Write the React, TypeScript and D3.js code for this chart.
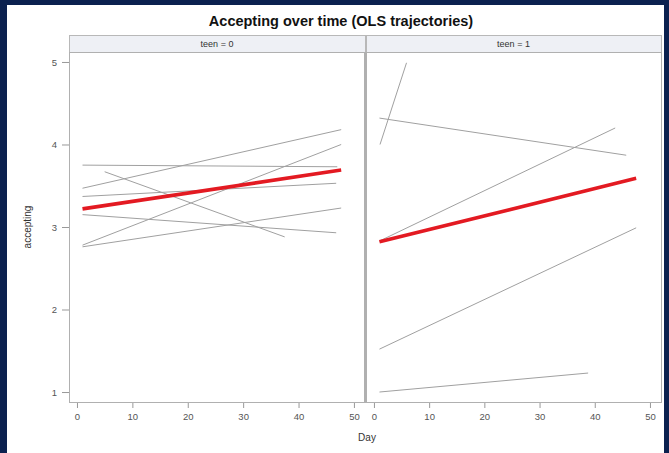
import React, { useEffect, useRef } from "react";
import * as d3 from "d3";

// facet labels + axis ticks
const panelLabels = ["teen = 0", "teen = 1"];
const yTicks = [1, 2, 3, 4, 5];
const xTicks = [0, 10, 20, 30, 40, 50];

// individual OLS trajectories: [startDay, startValue, endDay, endValue]
const teen0Lines = [
  [1, 3.75, 47, 3.73],
  [1, 3.47, 47.7, 4.18],
  [1, 3.37, 46.8, 3.53],
  [5, 3.67, 37.5, 2.88],
  [1, 3.15, 46.8, 2.93],
  [1, 2.78, 47.7, 4.0],
  [1, 2.76, 47.7, 3.23],
];
const teen1Lines = [
  [1.1, 4.0, 5.9, 4.99],
  [1, 4.32, 45.7, 3.87],
  [1, 2.83, 43.7, 4.2],
  [1, 1.52, 47.5, 2.99],
  [1, 1.0, 38.8, 1.23],
];
// average trajectory per group
const teen0Mean = [1, 3.22, 47.7, 3.69];
const teen1Mean = [1, 2.82, 47.5, 3.59];

const App = () => {
  const ref = useRef<SVGSVGElement>(null);
  const width = 669;
  const height = 453;

  useEffect(() => {
    const svg = d3.select(ref.current);
    svg.selectAll("*").remove();

    const font = "Liberation Sans, Arial, sans-serif";
    const top = 52;
    const bottom = 402;
    const headerTop = 35;

    svg.append("rect").attr("width", width).attr("height", height).attr("fill", "#0b214f");
    svg.append("rect").attr("x", 7).attr("y", 5).attr("width", 657).attr("height", 448).attr("fill", "#fff");

    svg.append("text")
      .attr("x", 341).attr("y", 26)
      .attr("text-anchor", "middle")
      .attr("font-family", font).attr("font-weight", "bold").attr("font-size", 14.5)
      .attr("fill", "#111")
      .text("Accepting over time (OLS trajectories)");

    const y = d3.scaleLinear().domain([0.879, 5.121]).range([bottom, top]);

    const panels = [
      { range: [69, 365], lines: teen0Lines, mean: teen0Mean },
      { range: [366, 661], lines: teen1Lines, mean: teen1Mean },
    ];

    panels.forEach((p, i) => {
      const x = d3.scaleLinear().domain([-1.44, 52]).range(p.range);
      const g = svg.append("g");
      const [x0, x1] = p.range;

      // strip header
      g.append("rect")
        .attr("x", x0 + 0.5).attr("y", headerTop + 0.5)
        .attr("width", x1 - x0).attr("height", top - headerTop)
        .attr("fill", "#eef0f5").attr("stroke", "#b8b8b8");
      g.append("text")
        .attr("x", (x0 + x1) / 2).attr("y", headerTop + 12)
        .attr("text-anchor", "middle")
        .attr("font-family", font).attr("font-size", 9).attr("fill", "#333")
        .text(panelLabels[i]);

      // frame
      g.append("rect")
        .attr("x", x0 + 0.5).attr("y", top + 0.5)
        .attr("width", x1 - x0).attr("height", bottom - top)
        .attr("fill", "none").attr("stroke", "#b0b0b0");

      const seg = (d: number[]) => [[x(d[0]), y(d[1])], [x(d[2]), y(d[3])]] as [number, number][];
      const line = d3.line();

      g.selectAll(".traj")
        .data(p.lines)
        .enter()
        .append("path")
        .attr("d", (d) => line(seg(d)))
        .attr("fill", "none")
        .attr("stroke", "#a0a0a0")
        .attr("stroke-width", 1);

      g.append("path")
        .attr("d", line(seg(p.mean)))
        .attr("fill", "none")
        .attr("stroke", "#e31a22")
        .attr("stroke-width", 3.6);

      const xAxis = g.append("g")
        .attr("transform", `translate(0,${bottom + 1})`)
        .call(d3.axisBottom(x).tickValues(xTicks).tickSize(5).tickPadding(5));
      xAxis.select(".domain").remove();
      xAxis.selectAll("line").attr("stroke", "#999");
      xAxis.selectAll("text").attr("font-family", font).attr("font-size", 9.5).attr("fill", "#555");

      if (i === 0) {
        const yAxis = g.append("g")
          .attr("transform", `translate(${x0},0)`)
          .call(d3.axisLeft(y).tickValues(yTicks).tickSize(7).tickPadding(5).tickFormat(d3.format("d")));
        yAxis.select(".domain").remove();
        yAxis.selectAll("line").attr("stroke", "#999");
        yAxis.selectAll("text").attr("font-family", font).attr("font-size", 9.5).attr("fill", "#555");
      }
    });

    // heavier divider between facets
    svg.append("line")
      .attr("x1", 365.5).attr("x2", 365.5).attr("y1", top).attr("y2", bottom + 1)
      .attr("stroke", "#b0b0b0").attr("stroke-width", 3);

    svg.append("text")
      .attr("transform", `translate(31,${(top + bottom) / 2}) rotate(-90)`)
      .attr("text-anchor", "middle")
      .attr("font-family", font).attr("font-size", 10).attr("fill", "#333")
      .text("accepting");

    svg.append("text")
      .attr("x", 367).attr("y", 441)
      .attr("text-anchor", "middle")
      .attr("font-family", font).attr("font-size", 10).attr("fill", "#333")
      .text("Day");
  }, []);

  return (
    <svg
      ref={ref}
      width={width}
      height={height}
      style={{ position: "absolute", left: 0, top: 0 }}
    />
  );
};

export default App;
